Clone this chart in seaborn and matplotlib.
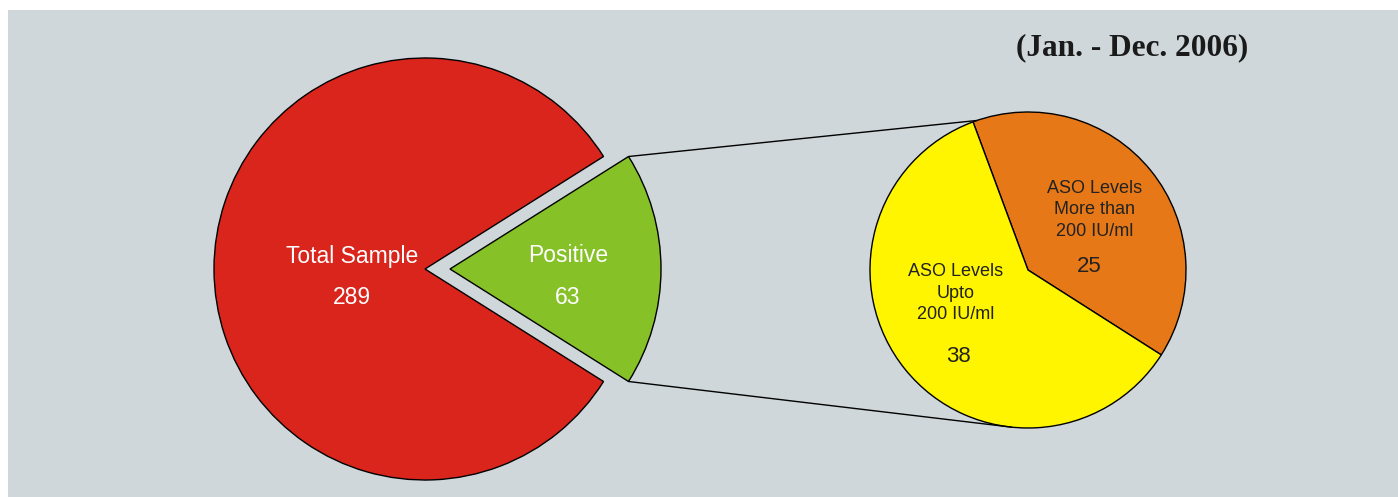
import numpy as np
import matplotlib
matplotlib.use("Agg")
import matplotlib.pyplot as plt
import seaborn as sns
from matplotlib.patches import Rectangle

sns.set_theme(style="white")

# ---- data ----
main_labels = ["Positive", "Total Sample"]
main_values = [63, 289]
sub_labels = ["ASO Levels\nMore than\n200 IU/ml", "ASO Levels\nUpto\n200 IU/ml"]
sub_values = [25, 38]
title_text = "(Jan. - Dec. 2006)"

main_colors = ["#86C128", "#D9251C"]
sub_colors = ["#E77817", "#FFF500"]
bg = "#CFD7DA"
sans = ["Liberation Sans", "DejaVu Sans"]

W, H = 1398, 497
fig = plt.figure(figsize=(W / 100, H / 100), dpi=100)
ax = fig.add_axes([0, 0, 1, 1])

ax.add_patch(Rectangle((8, 0), W - 8, H - 10, facecolor=bg, edgecolor="none", zorder=0))

# left pie
R1 = 211
c1 = (425, H - 269)
half = main_values[0] / sum(main_values) * 180
w1, _ = ax.pie(main_values, colors=main_colors, startangle=-half, counterclock=True,
               radius=R1, center=c1, explode=[25, 0],
               wedgeprops=dict(edgecolor="black", linewidth=1.0), frame=True)

# right pie
R2 = 158
c2 = (1028, H - 270)
w2, _ = ax.pie(sub_values, colors=sub_colors, startangle=-32.5, counterclock=True,
               radius=R2, center=c2,
               wedgeprops=dict(edgecolor="black", linewidth=1.0), frame=True)
ax.set_xlim(0, W)
ax.set_ylim(0, H)
ax.set_aspect("equal")
ax.axis("off")

# connector lines
g = w1[0]
gc = g.center
def pt(center, r, ang):
    a = np.deg2rad(ang)
    return center[0] + r * np.cos(a), center[1] + r * np.sin(a)
p_top = pt(gc, g.r, g.theta2)
p_bot = pt(gc, g.r, g.theta1)
q_top = pt(c2, R2, w2[0].theta2 - 1.5)
q_bot = pt(c2, R2, -96)
ax.plot([p_top[0], q_top[0]], [p_top[1], q_top[1]], color="black", lw=1.0, zorder=5)
ax.plot([p_bot[0], q_bot[0]], [p_bot[1], q_bot[1]], color="black", lw=1.0, zorder=5)

# labels
for txt, x, y in [(main_labels[1], 352, 256), (str(main_values[1]), 352, 297),
                  (main_labels[0], 568, 256), (str(main_values[0]), 568, 297)]:
    ax.text(x, H - y, txt, color="white", fontsize=16.5, family=sans, ha="center", va="center")

ax.text(1095, H - 210, sub_labels[0], color="#222222", fontsize=13, family=sans,
        ha="center", va="center", linespacing=1.38)
ax.text(1089, H - 266, str(sub_values[0]), color="#222222", fontsize=16, family=sans, ha="center", va="center")
ax.text(956, H - 293, sub_labels[1], color="#222222", fontsize=13, family=sans,
        ha="center", va="center", linespacing=1.38)
ax.text(958, H - 357, str(sub_values[1]), color="#222222", fontsize=16, family=sans, ha="center", va="center")

ax.text(1132, H - 48, title_text, color="#1a1a1a", fontsize=22.5, fontweight="bold",
        family=["Liberation Serif", "DejaVu Serif"], ha="center", va="center")

fig.savefig("out.png", dpi=100, facecolor="white")
